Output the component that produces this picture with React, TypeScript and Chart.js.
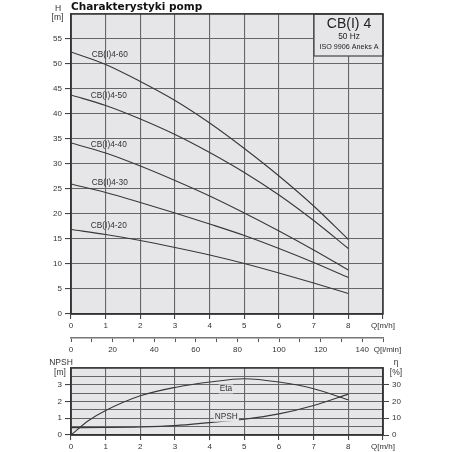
import { useEffect, useRef } from 'react'
import { Chart, registerables, Plugin } from 'chart.js'

Chart.register(...registerables)

// Q [m3/h] for head curves
const flow = [0, 1, 2, 3, 4, 5, 6, 7, 8]
const head20 = [16.9, 15.9, 14.7, 13.3, 11.8, 10.1, 8.2, 6.2, 4.1]
const head30 = [26, 24.3, 22.3, 20.2, 18.0, 15.7, 13.1, 10.3, 7.3]
const head40 = [34.2, 32.2, 29.6, 26.7, 23.6, 20.2, 16.6, 12.8, 8.8]
const head50 = [43.8, 41.7, 39.0, 35.9, 32.3, 28.3, 23.8, 18.7, 13.1]
const head60 = [52.4, 49.9, 46.5, 42.7, 38.2, 33.1, 27.6, 21.6, 14.9]
const pumpNames = ['CB(I)4-20', 'CB(I)4-30', 'CB(I)4-40', 'CB(I)4-50', 'CB(I)4-60']
const nameAt = [
  { x: 1.09, y: 17.6 },
  { x: 1.12, y: 26.2 },
  { x: 1.09, y: 33.8 },
  { x: 1.09, y: 43.6 },
  { x: 1.12, y: 51.8 },
]

// lower chart
const etaFlow = [0, 0.5, 1, 2, 3, 4, 5, 6, 7, 8]
const eta = [0, 8.5, 14.6, 23.4, 28.4, 31.6, 33.6, 31.6, 27.6, 21]
const npsh = [0.44, 0.45, 0.48, 0.56, 0.74, 0.94, 1.26, 1.76, 2.44]

const FONT = '"Liberation Sans", Arial, sans-serif'
const BG = '#e6e6e8'
const GRID = '#666'
const LINE = '#383838'
const TEXT = '#333'
const CLEAR = 'rgba(0,0,0,0)'

const tickFont = { family: FONT, size: 8 }

const topDecor: Plugin = {
  id: 'topDecor',
  beforeDraw(chart) {
    const { ctx, chartArea: a } = chart
    ctx.save()
    ctx.fillStyle = BG
    ctx.fillRect(a.left, a.top, a.width, a.height)
    ctx.restore()
  },
  afterDatasetsDraw(chart) {
    const { ctx, chartArea: a, scales } = chart
    ctx.save()
    ctx.fillStyle = TEXT
    ctx.font = `8.3px ${FONT}`
    ctx.textAlign = 'center'
    ctx.textBaseline = 'middle'
    pumpNames.forEach((n, i) => {
      ctx.fillText(n, scales.x.getPixelForValue(nameAt[i].x), scales.y.getPixelForValue(nameAt[i].y))
    })

    // type box in the corner
    const bx = a.right - 69
    const by = a.top
    ctx.fillStyle = BG
    ctx.fillRect(bx, by, 69, 42)
    ctx.strokeStyle = '#444'
    ctx.lineWidth = 1.2
    ctx.strokeRect(bx, by, 69, 42)
    ctx.fillStyle = '#222'
    ctx.font = `14px ${FONT}`
    ctx.fillText('CB(I) 4', bx + 35, by + 10.5)
    ctx.font = `8.3px ${FONT}`
    ctx.fillText('50 Hz', bx + 35, by + 23)
    ctx.font = `7.2px ${FONT}`
    ctx.fillText('ISO 9906 Aneks A', bx + 35, by + 33.5)

    ctx.strokeStyle = '#333'
    ctx.lineWidth = 1.5
    ctx.strokeRect(a.left, a.top, a.width, a.height)
    ctx.restore()
  },
  afterDraw(chart) {
    const { ctx, scales } = chart
    ctx.save()
    ctx.fillStyle = '#111'
    ctx.font = `bold 10.5px "DejaVu Sans", sans-serif`
    ctx.textAlign = 'left'
    ctx.textBaseline = 'alphabetic'
    ctx.fillText('Charakterystyki pomp', 71, 9.5)
    ctx.fillStyle = TEXT
    ctx.font = `8.5px ${FONT}`
    ctx.textAlign = 'center'
    ctx.textBaseline = 'middle'
    ctx.fillText('H', 58, 9)
    ctx.fillText('[m]', 57.5, 18)
    ctx.font = `8px ${FONT}`
    ctx.fillText('Q[l/min]', scales.x2.right + 4.5, scales.x2.top + 12)
    ctx.restore()
  },
}

const lowDecor: Plugin = {
  id: 'lowDecor',
  beforeDraw(chart) {
    const { ctx, chartArea: a } = chart
    ctx.save()
    ctx.fillStyle = BG
    ctx.fillRect(a.left, a.top, a.width, a.height)
    ctx.restore()
  },
  afterDatasetsDraw(chart) {
    const { ctx, chartArea: a, scales } = chart
    ctx.save()
    ctx.font = `8.3px ${FONT}`
    ctx.textAlign = 'center'
    ctx.textBaseline = 'middle'
    const tags = [
      { t: 'Eta', x: 4.47, y: 2.75 },
      { t: 'NPSH', x: 4.48, y: 1.07 },
    ]
    tags.forEach(({ t, x, y }) => {
      const px = scales.x.getPixelForValue(x)
      const py = scales.y.getPixelForValue(y)
      const w = ctx.measureText(t).width
      ctx.fillStyle = BG
      ctx.fillRect(px - w / 2 - 1, py - 4.5, w + 2, 9)
      ctx.fillStyle = TEXT
      ctx.fillText(t, px, py)
    })
    ctx.strokeStyle = '#333'
    ctx.lineWidth = 1.5
    ctx.strokeRect(a.left, a.top, a.width, a.height)
    ctx.restore()
  },
  afterDraw(chart) {
    const { ctx } = chart
    ctx.save()
    ctx.fillStyle = TEXT
    ctx.font = `8.5px ${FONT}`
    ctx.textAlign = 'center'
    ctx.textBaseline = 'middle'
    ctx.fillText('NPSH', 61, 5)
    ctx.fillText('[m]', 60, 15)
    ctx.fillText('η', 396, 5)
    ctx.fillText('[%]', 396, 15)
    ctx.restore()
  },
}

function line(xs: number[], ys: number[], axis = 'y') {
  return {
    data: xs.map((x, i) => ({ x, y: ys[i] })),
    borderColor: LINE,
    borderWidth: 1.1,
    pointRadius: 0,
    fill: false,
    cubicInterpolationMode: 'monotone' as const,
    yAxisID: axis,
  }
}

function HeadChart() {
  const ref = useRef<HTMLCanvasElement>(null)

  useEffect(() => {
    if (!ref.current) return
    const chart = new Chart(ref.current, {
      type: 'line',
      data: {
        datasets: [
          line(flow, head20),
          line(flow, head30),
          line(flow, head40),
          line(flow, head50),
          line(flow, head60),
        ],
      },
      options: {
        responsive: false,
        animation: false,
        layout: { padding: { top: 14, right: 69, left: 0, bottom: 0 } },
        plugins: { legend: { display: false }, tooltip: { enabled: false } },
        scales: {
          x: {
            type: 'linear',
            min: 0,
            max: 9,
            ticks: {
              stepSize: 1,
              autoSkip: false,
              maxRotation: 0,
              padding: 2,
              color: TEXT,
              font: tickFont,
              callback: (v: any) => (v === 9 ? 'Q[m/h]' : String(v)),
            },
            grid: { color: GRID, lineWidth: 1.1, tickLength: 5, tickColor: '#444' },
            border: { color: '#333', width: 1.6 },
            afterFit: (s: any) => {
              s.height = 24
            },
          },
          x2: {
            type: 'linear',
            position: 'bottom',
            min: 0,
            max: 150,
            ticks: {
              stepSize: 10,
              autoSkip: false,
              maxRotation: 0,
              padding: 3,
              color: TEXT,
              font: tickFont,
              callback: (v: any) => (v % 20 === 0 && v < 150 ? String(v) : ''),
            },
            grid: { drawOnChartArea: false, tickLength: 4, tickColor: '#555' },
            border: { color: '#777', width: 1.5 },
            afterFit: (s: any) => {
              s.height = 20
            },
          },
          y: {
            type: 'linear',
            min: 0,
            max: 60,
            ticks: {
              stepSize: 5,
              autoSkip: false,
              padding: 3,
              color: TEXT,
              font: tickFont,
              callback: (v: any) => (v === 60 ? '' : String(v)),
            },
            grid: {
              color: GRID,
              lineWidth: 1.1,
              tickLength: 6,
              tickColor: (c: any) => (c.tick && c.tick.value === 60 ? CLEAR : '#444'),
            },
            border: { color: '#333', width: 1.6 },
            afterFit: (s: any) => {
              s.width = 71
            },
          },
        },
      },
      plugins: [topDecor],
    } as any)
    return () => chart.destroy()
  }, [])

  return <canvas ref={ref} width={452} height={358} style={{ display: 'block', width: 452, height: 358 }} />
}

function NpshChart() {
  const ref = useRef<HTMLCanvasElement>(null)

  useEffect(() => {
    if (!ref.current) return
    const chart = new Chart(ref.current, {
      type: 'line',
      data: {
        datasets: [line(etaFlow, eta, 'y1'), line(flow, npsh, 'y')],
      },
      options: {
        responsive: false,
        animation: false,
        layout: { padding: { top: 10, right: 0, left: 0, bottom: 0 } },
        plugins: { legend: { display: false }, tooltip: { enabled: false } },
        scales: {
          x: {
            type: 'linear',
            min: 0,
            max: 9,
            ticks: {
              stepSize: 1,
              autoSkip: false,
              maxRotation: 0,
              padding: 2,
              color: TEXT,
              font: tickFont,
              callback: (v: any) => (v === 9 ? 'Q[m/h]' : String(v)),
            },
            grid: { color: GRID, lineWidth: 1.1, tickLength: 5, tickColor: '#444' },
            border: { color: '#333', width: 1.6 },
            afterFit: (s: any) => {
              s.height = 17
            },
          },
          y: {
            type: 'linear',
            position: 'left',
            min: 0,
            max: 4,
            ticks: {
              stepSize: 0.5,
              autoSkip: false,
              padding: 3,
              color: TEXT,
              font: tickFont,
              callback: (v: any) => (v % 1 === 0 && v < 4 ? String(v) : ''),
            },
            grid: {
              color: GRID,
              lineWidth: 1.1,
              tickLength: 6,
              tickColor: (c: any) => (c.tick && c.tick.value % 1 === 0 && c.tick.value < 4 ? '#444' : CLEAR),
            },
            border: { color: '#333', width: 1.6 },
            afterFit: (s: any) => {
              s.width = 71
            },
          },
          y1: {
            type: 'linear',
            position: 'right',
            min: 0,
            max: 40,
            ticks: {
              stepSize: 10,
              autoSkip: false,
              padding: 3,
              color: TEXT,
              font: tickFont,
              callback: (v: any) => (v < 40 ? String(v) : ''),
            },
            grid: {
              drawOnChartArea: false,
              tickLength: 6,
              tickColor: (c: any) => (c.tick && c.tick.value < 40 ? '#444' : CLEAR),
            },
            border: { color: '#333', width: 1.6 },
            afterFit: (s: any) => {
              s.width = 69
            },
          },
        },
      },
      plugins: [lowDecor],
    } as any)
    return () => chart.destroy()
  }, [])

  return <canvas ref={ref} width={452} height={94} style={{ display: 'block', width: 452, height: 94 }} />
}

export default function App() {
  return (
    <div style={{ position: 'fixed', left: 0, top: 0, width: 452, height: 452, background: '#fff' }}>
      <HeadChart />
      <NpshChart />
    </div>
  )
}
